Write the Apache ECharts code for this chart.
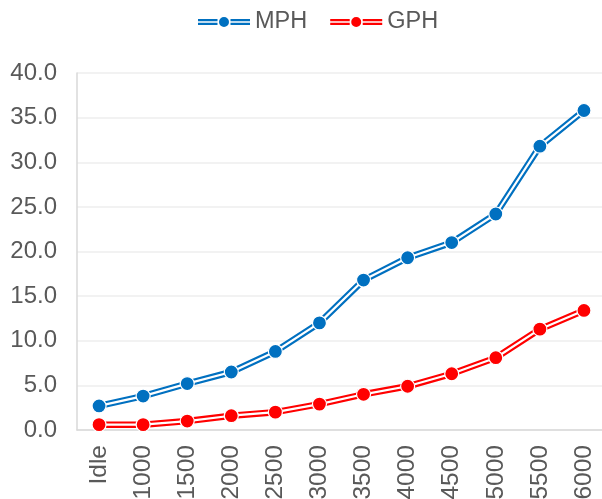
<!DOCTYPE html>
<html>
<head>
<meta charset="utf-8">
<script src="https://cdn.jsdelivr.net/npm/echarts@6/dist/echarts.min.js"></script>
<style>html,body{margin:0;padding:0;background:#fff;overflow:hidden}#c{width:602px;height:499px}</style>
</head>
<body>
<div id="c"></div>
<script>
const categories = ['Idle','1000','1500','2000','2500','3000','3500','4000','4500','5000','5500','6000'];
const mph = [2.7, 3.8, 5.2, 6.5, 8.8, 12.0, 16.8, 19.3, 21.0, 24.2, 31.8, 35.8];
const gph = [0.6, 0.6, 1.0, 1.6, 2.0, 2.9, 4.0, 4.9, 6.3, 8.1, 11.3, 13.4];
const yTicks = {min: 0, max: 40, interval: 5};

const BLUE = '#0070C0', RED = '#FF0000';
const iconPath = 'path://M0,2.0 H19.5 V4.2 H0 Z M0,5.8 H19.5 V8.0 H0 Z M32.5,2.0 H52 V4.2 H32.5 Z M32.5,5.8 H52 V8.0 H32.5 Z M21,5 A5,5 0 1,1 31,5 A5,5 0 1,1 21,5 Z';

function doubleLine(name, data, color) {
  return [
    {name: name + '_outer', type: 'line', data: data, symbol: 'none', silent: true,
     lineStyle: {color: color, width: 6.5}, itemStyle: {color: color}},
    {name: name + '_inner', type: 'line', data: data, symbol: 'none', silent: true,
     lineStyle: {color: '#ffffff', width: 2.2}, itemStyle: {color: '#ffffff'}},
    {name: name, type: 'line', data: data, symbol: 'circle', symbolSize: 14,
     lineStyle: {width: 0, opacity: 0},
     itemStyle: {color: color, borderColor: '#ffffff', borderWidth: 1.2}}
  ];
}

const chart = echarts.init(document.getElementById('c'), null, {renderer: 'canvas'});
chart.setOption({
  animation: false,
  backgroundColor: '#ffffff',
  legend: {
    left: 198, top: 10, padding: 0,
    itemWidth: 52, itemHeight: 10, itemGap: 23,
    data: [{name: 'MPH', icon: iconPath}, {name: 'GPH', icon: iconPath}],
    itemStyle: {borderWidth: 0},
    textStyle: {fontFamily: 'Liberation Sans, Arial, sans-serif', fontSize: 23.5, color: '#595959'}
  },
  grid: {left: 77, top: 73, width: 529, height: 357, containLabel: false, outerBoundsMode: 'none'},
  xAxis: {
    type: 'category', data: categories, boundaryGap: true,
    axisLine: {lineStyle: {color: '#d9d9d9', width: 1.5}},
    axisTick: {show: false},
    axisLabel: {rotate: 90, margin: 15, fontFamily: 'Liberation Sans, Arial, sans-serif', fontSize: 24.5, color: '#595959', interval: 0},
    splitLine: {show: false}
  },
  yAxis: {
    type: 'value', min: yTicks.min, max: yTicks.max, interval: yTicks.interval,
    axisLine: {show: true, lineStyle: {color: '#d9d9d9', width: 1.5}},
    axisTick: {show: false},
    axisLabel: {margin: 20, fontFamily: 'Liberation Sans, Arial, sans-serif', fontSize: 24, color: '#595959',
      formatter: v => v.toFixed(1)},
    splitLine: {lineStyle: {color: '#eeeeee', width: 1.5}}
  },
  series: [].concat(doubleLine('MPH', mph, BLUE), doubleLine('GPH', gph, RED))
});
</script>
</body>
</html>
